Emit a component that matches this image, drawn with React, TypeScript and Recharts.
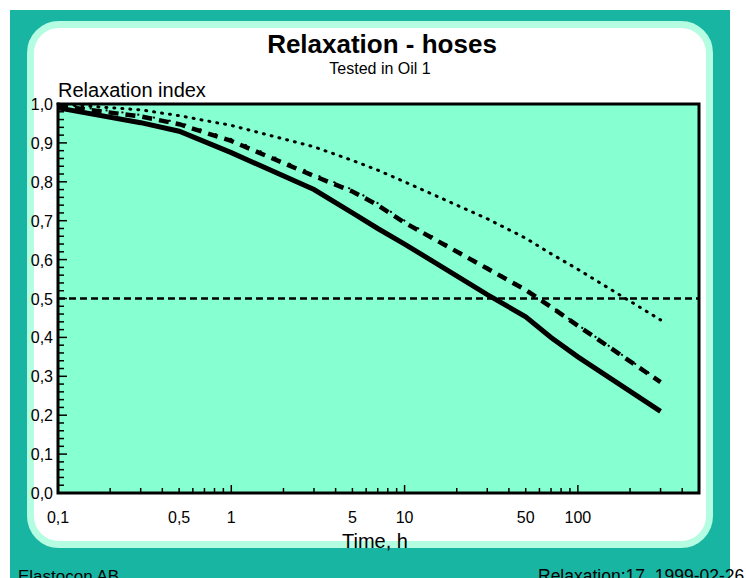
import { LineChart, Line, XAxis, YAxis, ReferenceArea, ReferenceLine } from "recharts";

const FONT = '"Liberation Sans", Arial, Helvetica, sans-serif';
const TEAL = "#18B5A3";
const MINT = "#B4FCE2";
const PLOT = "#86FFD1";

// time, h
const times = [0.1, 0.3, 0.5, 1, 3, 5, 7, 10, 30, 50, 70, 100, 300];
// relaxation index per series
const solidSeries = [0.99, 0.952, 0.93, 0.875, 0.78, 0.72, 0.68, 0.64, 0.51, 0.453, 0.4, 0.35, 0.21];
const dashSeries = [0.995, 0.968, 0.948, 0.905, 0.815, 0.775, 0.74, 0.695, 0.577, 0.522, 0.478, 0.43, 0.285];
const dashDotSeries = [1.0, 0.972, 0.952, 0.91, 0.82, 0.78, 0.745, 0.7, 0.58, 0.525, 0.48, 0.432, 0.288];
const dotSeries = [1.0, 0.985, 0.97, 0.945, 0.89, 0.855, 0.83, 0.8, 0.705, 0.655, 0.615, 0.575, 0.445];

const xTicks = [
  0.1, 0.2, 0.3, 0.4, 0.5, 0.6, 0.7, 0.8, 0.9,
  1, 2, 3, 4, 5, 6, 7, 8, 9,
  10, 20, 30, 40, 50, 60, 70, 80, 90,
  100, 200, 300, 400, 500,
];
const xMajor = [1, 10, 100];
const xLabels = [0.1, 0.5, 1, 5, 10, 50, 100];

const yTicks = [
  0, 0.02, 0.04, 0.06, 0.08, 0.1, 0.12, 0.14, 0.16, 0.18,
  0.2, 0.22, 0.24, 0.26, 0.28, 0.3, 0.32, 0.34, 0.36, 0.38,
  0.4, 0.42, 0.44, 0.46, 0.48, 0.5, 0.52, 0.54, 0.56, 0.58,
  0.6, 0.62, 0.64, 0.66, 0.68, 0.7, 0.72, 0.74, 0.76, 0.78,
  0.8, 0.82, 0.84, 0.86, 0.88, 0.9, 0.92, 0.94, 0.96, 0.98, 1,
];
const yLabels = [0, 0.1, 0.2, 0.3, 0.4, 0.5, 0.6, 0.7, 0.8, 0.9, 1];

const rows = times.map((t, i) => ({
  t,
  solid: solidSeries[i],
  dash: dashSeries[i],
  dashDot: dashDotSeries[i],
  dot: dotSeries[i],
}));

const comma = (v: number, digits: number) => v.toFixed(digits).replace(".", ",");

const XTick = (props: any) => {
  const { x, y, payload } = props;
  const v = payload.value;
  const len = xMajor.includes(v) ? 8 : 5;
  return (
    <g>
      <line x1={x} x2={x} y1={y} y2={y - len} stroke="#000" strokeWidth={1.5} />
      {xLabels.includes(v) && (
        <text x={x} y={y + 30} textAnchor="middle" fontSize={16} fontFamily={FONT} fill="#000">
          {v < 1 ? comma(v, 1) : String(v)}
        </text>
      )}
    </g>
  );
};

const YTick = (props: any) => {
  const { x, y, payload } = props;
  const v = payload.value;
  const major = yLabels.some((l) => Math.abs(l - v) < 1e-9);
  return (
    <g>
      <line x1={x} x2={x + (major ? 9 : 6)} y1={y} y2={y} stroke="#000" strokeWidth={1.5} />
      {major && (
        <text x={x - 5} y={y + 6} textAnchor="end" fontSize={16} fontFamily={FONT} fill="#000">
          {comma(v, 1)}
        </text>
      )}
    </g>
  );
};

export default function App() {
  return (
    <div style={{ position: "fixed", left: 0, top: 0, width: 746, height: 578, background: "#fff", overflow: "hidden" }}>
      <div style={{ position: "absolute", left: 10, top: 10, width: 720, height: 568, background: TEAL }} />
      <div
        style={{
          position: "absolute",
          left: 27,
          top: 21,
          width: 686,
          height: 527,
          boxSizing: "border-box",
          border: `7px solid ${MINT}`,
          borderRadius: 32,
          background: "#fff",
        }}
      />

      <div style={{ position: "absolute", left: 0, top: 0 }}>
        <LineChart width={746} height={578} data={rows} margin={{ top: 104, right: 47, bottom: 55, left: 0 }}>
          <ReferenceArea
            x1={0.1}
            x2={500}
            y1={0}
            y2={1}
            fill={PLOT}
            fillOpacity={1}
            stroke="#000"
            strokeWidth={3}
          />
          <XAxis
            dataKey="t"
            type="number"
            scale="log"
            domain={[0.1, 500]}
            ticks={xTicks}
            interval={0}
            tick={<XTick />}
            tickLine={false}
            axisLine={false}
            tickSize={0}
            tickMargin={0}
            height={30}
          />
          <YAxis
            type="number"
            domain={[0, 1]}
            ticks={yTicks}
            interval={0}
            tick={<YTick />}
            tickLine={false}
            axisLine={false}
            tickSize={0}
            tickMargin={0}
            width={58}
          />
          <ReferenceLine y={0.5} stroke="#000" strokeWidth={2.5} strokeDasharray="7 4" />
          <Line dataKey="dot" stroke="#000" strokeWidth={3} strokeDasharray="1 7" strokeLinecap="round" dot={false} isAnimationActive={false} />
          <Line dataKey="dashDot" stroke="#000" strokeWidth={2} strokeDasharray="2 14" dot={false} isAnimationActive={false} />
          <Line dataKey="dash" stroke="#000" strokeWidth={4.5} strokeDasharray="10 7" dot={false} isAnimationActive={false} />
          <Line dataKey="solid" stroke="#000" strokeWidth={5} dot={false} isAnimationActive={false} />
        </LineChart>
      </div>

      <svg width={746} height={578} style={{ position: "absolute", left: 0, top: 0, pointerEvents: "none" }} fontFamily={FONT}>
        <text x={382} y={53} textAnchor="middle" fontSize={26} fontWeight="bold" fill="#000">
          Relaxation - hoses
        </text>
        <text x={380} y={74} textAnchor="middle" fontSize={16} fill="#000">
          Tested in Oil 1
        </text>
        <text x={58} y={97} fontSize={20} fill="#000">
          Relaxation index
        </text>
        <text x={375} y={548} textAnchor="middle" fontSize={20} fill="#000">
          Time, h
        </text>
        <text x={18} y={582} fontSize={17} fill="#000">
          Elastocon AB
        </text>
        <text x={538} y={582} fontSize={17.5} fill="#000" style={{ whiteSpace: "pre" }}>
          {"Relaxation:17  1999-02-26"}
        </text>
      </svg>
    </div>
  );
}
